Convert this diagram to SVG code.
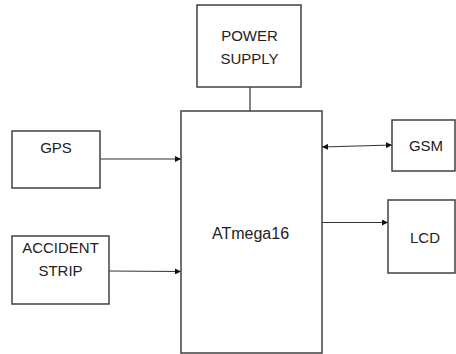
<svg xmlns="http://www.w3.org/2000/svg" width="456" height="354" viewBox="0 0 456 354">
<style>
.box{fill:#fff;stroke:#404040;stroke-width:1.5}
.lbl{font-family:"Liberation Sans",Arial,sans-serif;font-size:15px;fill:#222;text-anchor:middle}
.con{stroke:#333;stroke-width:1.2;fill:none}
</style>
<defs>
<marker id="ah" viewBox="0 0 10 10" refX="10" refY="5" markerWidth="6" markerHeight="6" orient="auto-start-reverse" markerUnits="userSpaceOnUse">
<path d="M0,0 L10,5 L0,10 z" fill="#111"/>
</marker>
</defs>
<rect width="456" height="354" fill="#fff"/>
<g id="connectors">
<line class="con" x1="250" y1="87" x2="250" y2="111"/>
<line class="con" x1="100" y1="159" x2="181" y2="159" marker-end="url(#ah)"/>
<line class="con" x1="109" y1="271" x2="181" y2="271.5" marker-end="url(#ah)"/>
<line class="con" x1="322" y1="147" x2="392" y2="145" marker-start="url(#ah)" marker-end="url(#ah)"/>
<line class="con" x1="322" y1="222.5" x2="388" y2="222.5" marker-end="url(#ah)"/>
</g>
<g id="power">
<rect class="box" x="197" y="5" width="104" height="82"/>
<text class="lbl" x="249.5" y="40.5">POWER</text>
<text class="lbl" x="249.5" y="63.5">SUPPLY</text>
</g>
<g id="atmega">
<rect class="box" x="181" y="111" width="141" height="242"/>
<text class="lbl" x="250.5" y="239" style="font-size:16px">ATmega16</text>
</g>
<g id="gps">
<rect class="box" x="12" y="131" width="88" height="57"/>
<text class="lbl" x="56" y="153">GPS</text>
</g>
<g id="accident">
<rect class="box" x="12" y="236" width="97" height="68"/>
<text class="lbl" x="60.5" y="252.5">ACCIDENT</text>
<text class="lbl" x="60.5" y="276">STRIP</text>
</g>
<g id="gsm">
<rect class="box" x="392" y="120" width="63" height="51"/>
<text class="lbl" x="426" y="151">GSM</text>
</g>
<g id="lcd">
<rect class="box" x="388" y="200" width="67" height="73"/>
<text class="lbl" x="425" y="242.5">LCD</text>
</g>
</svg>
